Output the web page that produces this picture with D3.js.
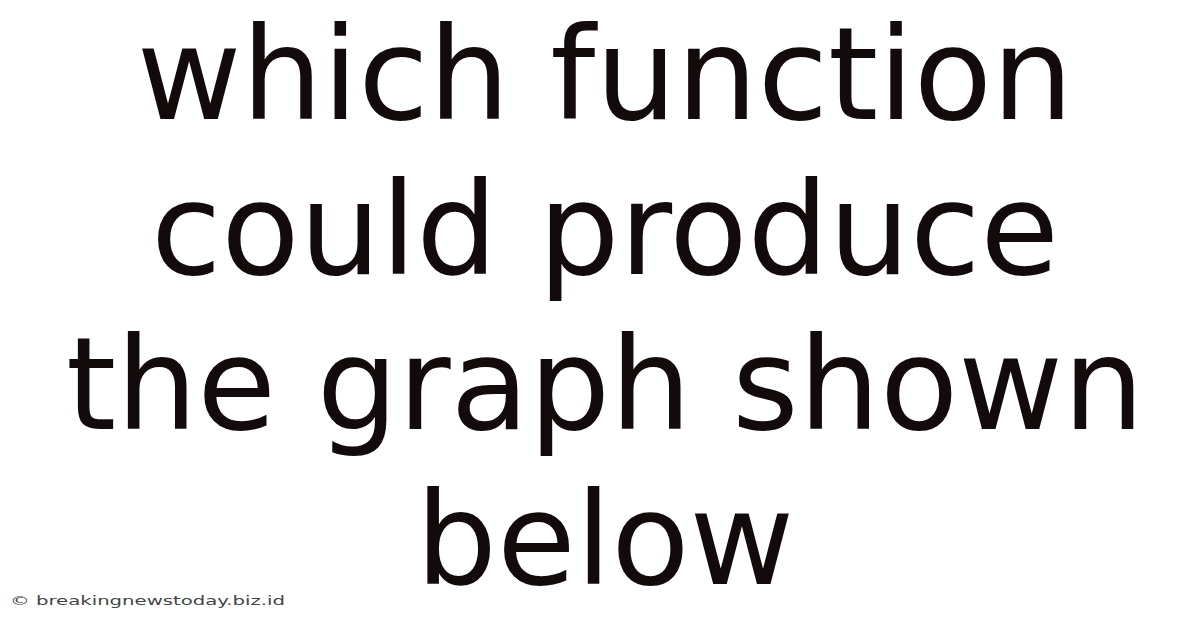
<!DOCTYPE html>
<html>
<head>
<meta charset="utf-8">
<script src="https://cdn.jsdelivr.net/npm/d3@7"></script>
<style>
html,body{margin:0;padding:0;background:#fff;overflow:hidden;}
</style>
</head>
<body>
<script>
const titleLines = ["which function", "could produce", "the graph shown", "below"];
const watermark = "© breakingnewstoday.biz.id";

const W = 1200, H = 628;
const svg = d3.select("body").append("svg")
  .attr("width", W).attr("height", H)
  .style("display", "block");

svg.append("rect").attr("width", W).attr("height", H).attr("fill", "#ffffff");

const y = d3.scaleLinear().domain([0, titleLines.length - 1]).range([119, 584]);

svg.selectAll("text.title")
  .data(titleLines)
  .join("text")
  .attr("class", "title")
  .attr("x", 605)
  .attr("y", (d, i) => y(i))
  .attr("text-anchor", "middle")
  .attr("font-family", "DejaVu Sans")
  .attr("font-size", 128)
  .attr("fill", "#130b0b")
  .text(d => d);

svg.append("text")
  .attr("x", 10)
  .attr("y", 605)
  .attr("font-family", "DejaVu Sans")
  .attr("font-size", 11.5)
  .attr("fill", "#444")
  .attr("textLength", 275)
  .attr("lengthAdjust", "spacingAndGlyphs")
  .text(watermark);
</script>
</body>
</html>
